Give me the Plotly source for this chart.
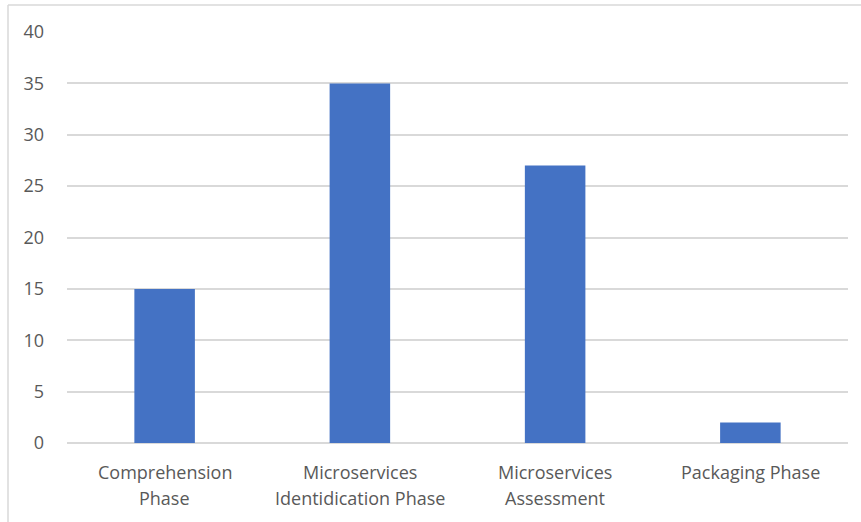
import plotly.graph_objects as go

# Number of studies per migration phase
phases = [
    "Comprehension Phase",
    "Microservices Identidication Phase",
    "Microservices Assessment",
    "Packaging Phase",
]
# Category labels as they wrap under the axis
phase_lines = [
    ["Comprehension", "Phase"],
    ["Microservices", "Identidication Phase"],
    ["Microservices", "Assessment"],
    ["Packaging Phase"],
]
counts = [15, 35, 27, 2]
y_ticks = [0, 5, 10, 15, 20, 25, 30, 35, 40]

bar_color = "#4472C4"
grid_color = "#D9D9D9"
text_color = "#595959"
font_family = "Open Sans, Liberation Sans, sans-serif"

fig = go.Figure(
    go.Bar(
        x=phases,
        y=counts,
        marker=dict(color=bar_color, line=dict(width=0)),
        hoverinfo="x+y",
    )
)

# Chart-area frame (top and left edges)
W, H = 861, 522
ml, mr, mt, mb = 67, 13, 32, 79
pw, ph = W - ml - mr, H - mt - mb


def px_x(p):
    return (p - ml) / pw


def px_y(p):
    return (H - mb - p) / ph


frame = dict(color=grid_color, width=1.5)
fig.add_shape(type="line", xref="paper", yref="paper",
              x0=px_x(8), x1=px_x(8), y0=px_y(5), y1=px_y(H + 5), line=frame)
fig.add_shape(type="line", xref="paper", yref="paper",
              x0=px_x(8), x1=px_x(W + 5), y0=px_y(5), y1=px_y(5), line=frame)

# Category labels, one annotation per line with Excel-like line spacing
line_gap = 26
first_offset = 29
for name, lines in zip(phases, phase_lines):
    for i, txt in enumerate(lines):
        fig.add_annotation(
            x=name, xref="x", y=0, yref="paper",
            text=txt, showarrow=False,
            xanchor="center", yanchor="middle",
            yshift=-(first_offset + i * line_gap),
            font=dict(family=font_family, size=18, color=text_color),
        )

fig.update_layout(
    width=W,
    height=H,
    margin=dict(l=ml, r=mr, t=mt, b=mb, pad=0),
    paper_bgcolor="white",
    plot_bgcolor="white",
    bargap=0.69,
    showlegend=False,
    font=dict(family=font_family, size=18, color=text_color),
    xaxis=dict(
        showgrid=False,
        showline=False,
        zeroline=False,
        ticks="",
        showticklabels=False,
    ),
    yaxis=dict(
        range=[0, 40],
        tickvals=y_ticks,
        showgrid=True,
        gridcolor=grid_color,
        gridwidth=1.5,
        zeroline=True,
        zerolinecolor=grid_color,
        zerolinewidth=1.5,
        showline=False,
        ticks="",
        ticklabelstandoff=22,
        tickfont=dict(family=font_family, size=18, color=text_color),
    ),
)

fig.write_html("out.html")
